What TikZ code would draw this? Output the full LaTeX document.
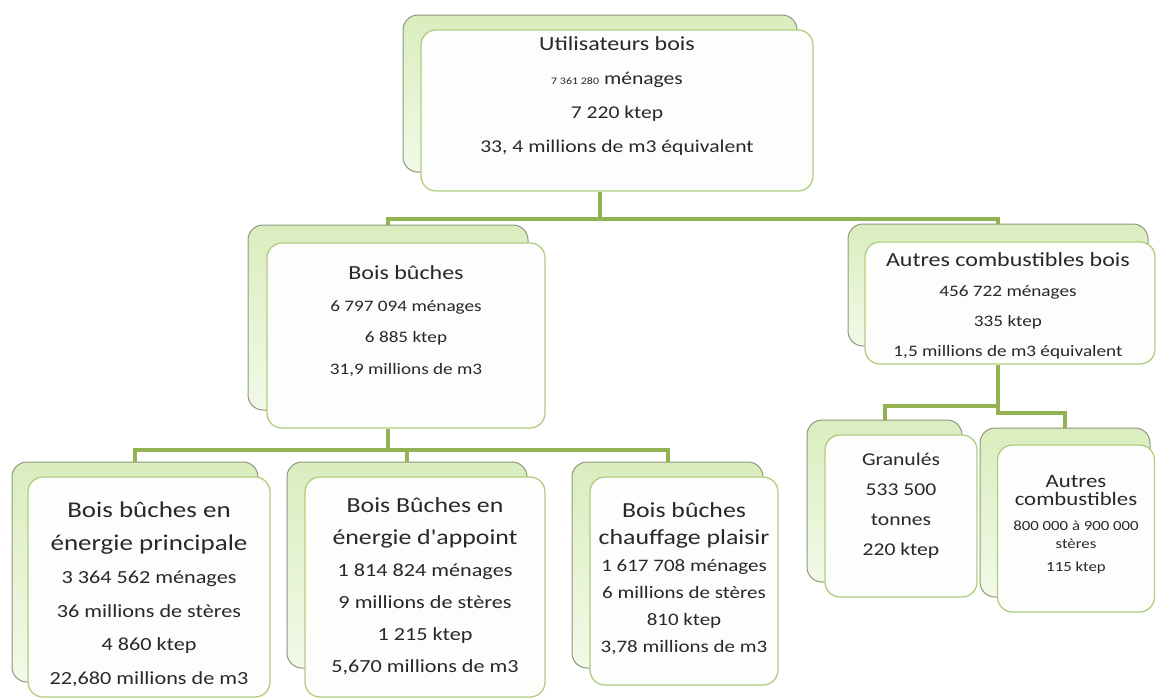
\documentclass[tikz,border=0pt]{standalone}
\usepackage{fontspec}
\setmainfont{Carlito}[FakeStretch=1.2, Ligatures=TeXOff]
\definecolor{conncol}{RGB}{146,178,84}
\definecolor{backtop}{RGB}{218,237,190}
\definecolor{backbot}{RGB}{242,249,232}
\definecolor{backline}{RGB}{140,152,128}
\definecolor{frontline}{RGB}{176,206,128}
\definecolor{frontfill}{RGB}{253,254,251}
\definecolor{txtcol}{RGB}{40,40,40}
\tikzset{
  backbox/.style={draw=backline, line width=1pt, rounded corners=15pt, top color=backtop, bottom color=backbot, inner sep=0pt},
  frontbox/.style={draw=frontline, line width=1.3pt, rounded corners=15pt, fill=frontfill, inner sep=0pt},
  connector/.style={draw=conncol, line width=4pt},
  txt/.style={text=txtcol, align=center, inner sep=0pt}
}
\begin{document}
\begin{tikzpicture}[x=1pt,y=-1pt]
\useasboundingbox (0,0) rectangle (1156,699);
\fill[white] (0,0) rectangle (1156,699);
% junction points
\coordinate (j1) at (600,219);
\coordinate (j2) at (388,450);
\coordinate (j3) at (998,406);
\coordinate (j4) at (998,413);
% boxes
\node[backbox, minimum width=394, minimum height=157] (topB) at (600,93.5) {};
\node[frontbox, minimum width=392, minimum height=161] (topF) at (617,110.5) {};
\node[backbox, minimum width=280, minimum height=185] (bbB) at (388,317.5) {};
\node[frontbox, minimum width=278, minimum height=185] (bbF) at (406,335.5) {};
\node[backbox, minimum width=300, minimum height=122] (acbB) at (998,285) {};
\node[frontbox, minimum width=290, minimum height=122] (acbF) at (1010,303) {};
\node[backbox, minimum width=246, minimum height=220] (blB) at (135,572) {};
\node[frontbox, minimum width=242, minimum height=220] (blF) at (149,587) {};
\node[backbox, minimum width=240, minimum height=206] (midB) at (407,565) {};
\node[frontbox, minimum width=240, minimum height=220] (midF) at (425,587) {};
\node[backbox, minimum width=191, minimum height=206] (chB) at (667.5,565) {};
\node[frontbox, minimum width=188, minimum height=208] (chF) at (684,581) {};
\node[backbox, minimum width=155, minimum height=162] (grB) at (884.5,501) {};
\node[frontbox, minimum width=152, minimum height=162] (grF) at (901,516) {};
\node[backbox, minimum width=170, minimum height=169] (auB) at (1065,512.5) {};
\node[frontbox, minimum width=157, minimum height=167] (auF) at (1076,528.5) {};
% connector lines
\draw[connector] (topF.south -| topB.south) -- (j1) -| (bbB.north);
\draw[connector] (j1) -| (acbB.north);
\draw[connector] (bbF.south -| bbB.south) -- (j2) -| (blB.north);
\draw[connector] (j2) -| (midB.north);
\draw[connector] (j2) -| (chB.north);
\draw[connector] (acbF.south -| acbB.south) -- (j3) -| (grB.north);
\draw[connector] (j3) -- (j4) -| (auB.north);
% texts
\node[txt, font=\fontsize{18}{33.7}\selectfont] (topT) at (617,96)
  {{\fontsize{20}{33.7}\selectfont Utilisateurs bois}\\{\fontsize{10}{12}\selectfont 7 361 280} ménages\\7 220 ktep\\33, 4 millions de m3 équivalent};
\node[txt, font=\fontsize{16}{31.7}\selectfont] (bbT) at (406,321)
  {{\fontsize{20}{31.7}\selectfont Bois bûches}\\6 797 094 ménages\\6 885 ktep\\31,9 millions de m3};
\node[txt, font=\fontsize{16}{30}\selectfont] (acbT) at (1008,306)
  {{\fontsize{20}{30}\selectfont Autres combustibles bois}\\456 722 ménages\\335 ktep\\1,5 millions de m3 équivalent};
\node[txt, font=\fontsize{18.5}{33.4}\selectfont] (blT) at (149,594)
  {{\fontsize{22.5}{33.4}\selectfont Bois bûches en}\\{\fontsize{22.5}{33.4}\selectfont énergie principale}\\3 364 562 ménages\\36 millions de stères\\4 860 ktep\\22,680 millions de m3};
\node[txt, font=\fontsize{18.5}{32}\selectfont] (midT) at (425,586)
  {{\fontsize{21.5}{32}\selectfont Bois Bûches en}\\{\fontsize{21.5}{32}\selectfont énergie d'appoint}\\1 814 824 ménages\\9 millions de stères\\1 215 ktep\\5,670 millions de m3};
\node[txt, font=\fontsize{17.5}{27}\selectfont] (chT) at (684,579)
  {{\fontsize{21.5}{25}\selectfont Bois bûches}\\{\fontsize{21.5}{25}\selectfont chauffage plaisir}\\1 617 708 ménages\\6 millions de stères\\810 ktep\\3,78 millions de m3};
\node[txt, font=\fontsize{18}{30}\selectfont] (grT) at (901,506)
  {Granulés\\533 500\\tonnes\\220 ktep};
\node[txt, font=\fontsize{14}{18}\selectfont] (auT) at (1076,525)
  {{\fontsize{19}{23}\selectfont Autres}\\{\fontsize{19}{23}\selectfont combustibles}\\[7pt]800 000 à 900 000\\stères\\[5pt]115 ktep};
\end{tikzpicture}
\end{document}
